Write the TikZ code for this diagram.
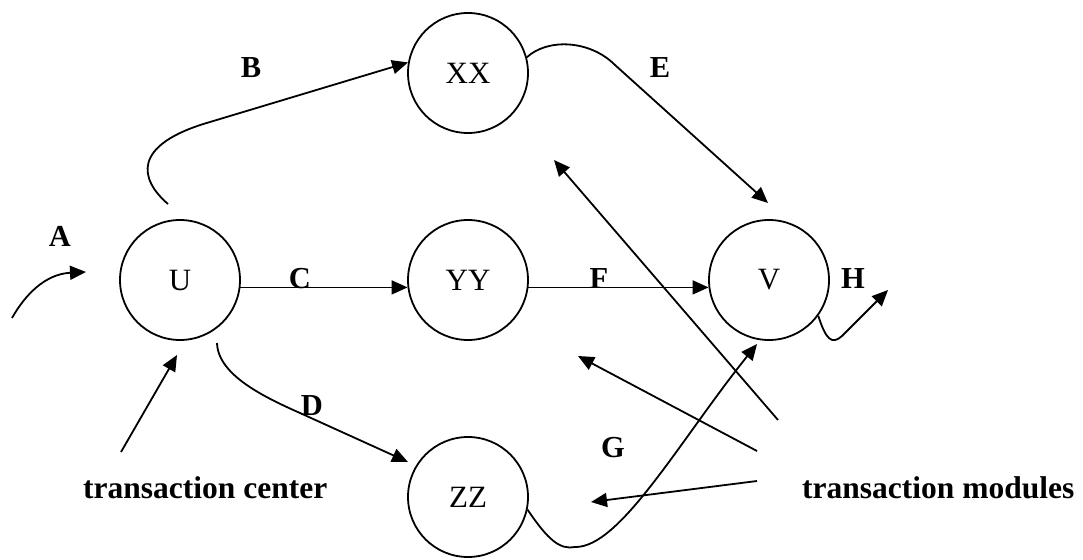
\documentclass[tikz,border=0pt]{standalone}
\usepackage{fontspec}
\setmainfont{Liberation Serif}
\usetikzlibrary{arrows.meta}
\begin{document}
\begin{tikzpicture}[x=1pt,y=-1pt,
  state/.style={circle,draw,line width=1.8pt,minimum size=120pt,inner sep=0pt,font=\fontsize{31}{34}\selectfont},
  lab/.style={anchor=base,inner sep=0pt,font=\fontsize{30.5}{34}\selectfont\bfseries},
  phrase/.style={anchor=base west,inner sep=0pt,font=\fontsize{31.5}{36}\selectfont\bfseries},
  arr/.style={line width=1.8pt,-{Triangle[length=16pt,width=14pt]}}]
\useasboundingbox (0,0) rectangle (1083,559);
% states
\node[state] (U)  at (180,280) {U};
\node[state] (XX) at (468,73)  {XX};
\node[state] (YY) at (468,280) {YY};
\node[state] (V)  at (769,280) {V};
\node[state] (ZZ) at (468,497) {ZZ};
% labels
\node[lab] (lA) at (60,246) {A};
\node[lab] (lB) at (251,78) {B};
\node[lab] (lC) at (300,288) {C};
\node[lab] (lD) at (312,415) {D};
\node[lab] (lE) at (660,78) {E};
\node[lab] (lF) at (599,288) {F};
\node[lab] (lG) at (613,457) {G};
\node[lab] (lH) at (853,288) {H};
\node[phrase] (tc) at (83,498) {transaction center};
\node[phrase] (tm) at (802,498) {transaction modules};
% free ends
\coordinate (a0) at (12,318);
\coordinate (a1) at (86,272);
\coordinate (b0) at (168,204);
\coordinate (e1) at (768,203);
\coordinate (d0) at (217,343);
\coordinate (d1) at (408,462);
\coordinate (g1) at (757,344);
\coordinate (h1) at (888,290);
\coordinate (tc0) at (121,452);
\coordinate (tc1) at (177,355);
\coordinate (m10) at (778,420);
\coordinate (m11) at (554,160);
\coordinate (m20) at (757,451);
\coordinate (m21) at (578,356);
\coordinate (m30) at (757,481);
\coordinate (m31) at (591,502);
% connectors
\draw[arr] (a0) .. controls (25,295) and (45,274) .. (a1);
\draw[arr] (b0) .. controls (140,180) and (130,145) .. (210,122) -- (XX.170);
\draw[arr] (XX.15) .. controls (548,38) and (590,40) .. (615,65) -- (e1);
\draw[arr] (U.-7.7) -- (YY.187.7);
\draw[arr] (YY.-7.7) -- (V.187.7);
\draw[arr] (d0) .. controls (218,375) and (264,397) .. (300,413) -- (d1);
\draw[arr] (ZZ.-12) .. controls (548,540) and (560,550) .. (575,547)
  .. controls (620,548) and (680,440) .. (g1);
\draw[arr] (V.-36) .. controls (826,340) and (832,345) .. (842,336) -- (h1);
\draw[arr] (tc0) -- (tc1);
\draw[arr] (m10) -- (m11);
\draw[arr] (m20) -- (m21);
\draw[arr] (m30) -- (m31);
\end{tikzpicture}
\end{document}
